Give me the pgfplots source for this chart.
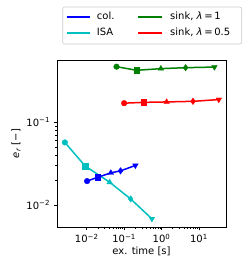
\documentclass[border=0pt]{standalone}
\usepackage{fontspec}
\setmainfont{DejaVu Sans}
\usepackage{pgfplots}
\pgfplotsset{compat=1.18}
\definecolor{mplblue}{RGB}{0,0,255}
\definecolor{mplcyan}{RGB}{0,191,191}
\definecolor{mplgreen}{RGB}{0,128,0}
\definecolor{mplred}{RGB}{255,0,0}
\begin{document}
\begin{tikzpicture}
\path[use as bounding box] (0,0) rectangle (249pt,270pt);
\begin{axis}[
  at={(57pt,43pt)}, anchor=south west,
  scale only axis, width=169pt, height=167pt,
  xmode=log, ymode=log,
  xmin=0.0016, xmax=53, ymin=0.0054, ymax=0.566,
  font=\fontsize{10}{12}\selectfont,
  tick label style={font=\fontsize{10}{12}\selectfont},
  xtick={0.01,0.1,1,10},
  xticklabels={10\textsuperscript{−2},10\textsuperscript{−1},10\textsuperscript{0},10\textsuperscript{1}},
  ytick={0.01,0.1},
  yticklabels={10\textsuperscript{−2},10\textsuperscript{−1}},
  tick align=outside, tick pos=left,
  major tick length=3.5pt, minor tick length=2pt,
  axis line style={line width=0.6pt},
  every tick/.style={black, line width=0.6pt},
  xlabel={ex. time [s]}, ylabel={\textit{e}\textsubscript{\textit{r}} [−]},
  xlabel style={yshift=3pt},
  ylabel style={yshift=-1pt},
  mk/.style={only marks, mark size=2.8pt, forget plot},
]
% lines
\addplot[color=mplgreen, line width=1.5pt, no marks] coordinates {(0.0625,0.47) (0.215,0.425) (0.96,0.445) (4.4,0.457) (26,0.465)};
\addplot[color=mplred, line width=1.5pt, no marks] coordinates {(0.1,0.17) (0.337,0.174) (1.37,0.176) (6.95,0.179) (34,0.188)};
\addplot[color=mplcyan, line width=1.5pt, no marks] coordinates {(0.0026,0.057) (0.009,0.0296) (0.041,0.0188) (0.149,0.0118) (0.553,0.00678)};
\addplot[color=mplblue, line width=1.5pt, no marks] coordinates {(0.0102,0.0194) (0.0197,0.0216) (0.044,0.0244) (0.08,0.0258) (0.2,0.030)};

% green markers
\addplot[mplgreen, mk, mark=*] coordinates {(0.0625,0.47)};
\addplot[mplgreen, mk, mark=square*] coordinates {(0.215,0.425)};
\addplot[mplgreen, mk, mark=triangle*, mark size=3.2pt] coordinates {(0.96,0.445)};
\addplot[mplgreen, mk, mark=diamond*, mark size=3.2pt] coordinates {(4.4,0.457)};
\addplot[mplgreen, mk, mark=triangle*, mark size=3.2pt, mark options={rotate=180}] coordinates {(26,0.465)};

% red markers
\addplot[mplred, mk, mark=*] coordinates {(0.1,0.17)};
\addplot[mplred, mk, mark=square*] coordinates {(0.337,0.174)};
\addplot[mplred, mk, mark=triangle*, mark size=3.2pt] coordinates {(1.37,0.176)};
\addplot[mplred, mk, mark=diamond*, mark size=3.2pt] coordinates {(6.95,0.179)};
\addplot[mplred, mk, mark=triangle*, mark size=3.2pt, mark options={rotate=180}] coordinates {(34,0.188)};

% cyan markers
\addplot[mplcyan, mk, mark=*] coordinates {(0.0026,0.057)};
\addplot[mplcyan, mk, mark=square*] coordinates {(0.009,0.0296)};
\addplot[mplcyan, mk, mark=triangle*, mark size=3.2pt] coordinates {(0.041,0.0188)};
\addplot[mplcyan, mk, mark=diamond*, mark size=3.2pt] coordinates {(0.149,0.0118)};
\addplot[mplcyan, mk, mark=triangle*, mark size=3.2pt, mark options={rotate=180}] coordinates {(0.553,0.00678)};

% blue markers
\addplot[mplblue, mk, mark=*] coordinates {(0.0102,0.0194)};
\addplot[mplblue, mk, mark=square*] coordinates {(0.0197,0.0216)};
\addplot[mplblue, mk, mark=triangle*, mark size=3.2pt] coordinates {(0.044,0.0244)};
\addplot[mplblue, mk, mark=diamond*, mark size=3.2pt] coordinates {(0.08,0.0258)};
\addplot[mplblue, mk, mark=triangle*, mark size=3.2pt, mark options={rotate=180}] coordinates {(0.2,0.030)};
\end{axis}
% legend (drawn by hand)
\draw[black!20, line width=0.6pt, fill=white, rounded corners=2pt] (62.7pt,226pt) rectangle (241.7pt,263pt);
\begin{scope}[font=\fontsize{10}{12}\selectfont]
\draw[mplblue, line width=2pt] (66.7pt,253pt) -- (90pt,253pt);
\node[anchor=mid west, inner sep=0pt] at (96.7pt,253.5pt) {col.};
\draw[mplcyan, line width=2pt] (66.7pt,237pt) -- (90pt,237pt);
\node[anchor=mid west, inner sep=0pt] at (96.7pt,237pt) {ISA};
\draw[mplgreen, line width=2pt] (138pt,253pt) -- (161.7pt,253pt);
\node[anchor=mid west, inner sep=0pt] at (170pt,253.5pt) {sink, \textit{λ}\,=\,1};
\draw[mplred, line width=2pt] (138pt,237pt) -- (161.7pt,237pt);
\node[anchor=mid west, inner sep=0pt] at (170pt,237pt) {sink, \textit{λ}\,=\,0.5};
\end{scope}
\end{tikzpicture}
\end{document}
